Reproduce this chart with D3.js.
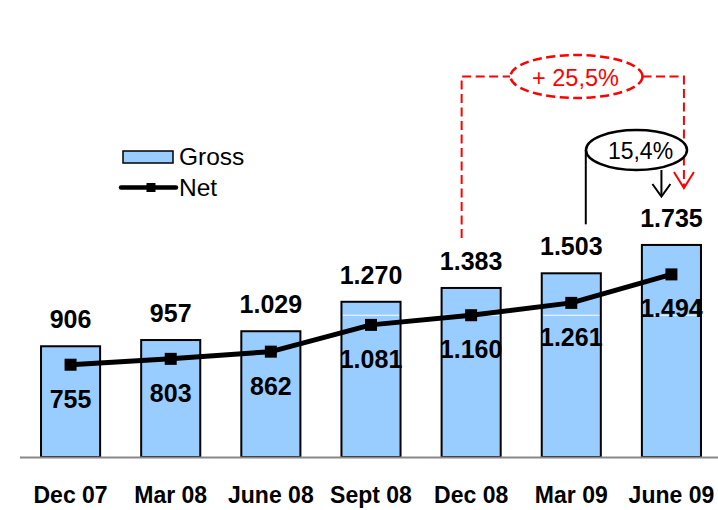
<!DOCTYPE html>
<html>
<head>
<meta charset="utf-8">
<script src="https://cdn.jsdelivr.net/npm/d3@7/dist/d3.min.js"></script>
<style>
  body { margin: 0; background: #fff; }
  svg { display: block; font-family: "Liberation Sans", Arial, sans-serif; }
</style>
</head>
<body>
<svg id="grafico" width="718" height="510"></svg>
<script>
// Datos
var periodos = ["Dec 07", "Mar 08", "June 08", "Sept 08", "Dec 08", "Mar 09", "June 09"];
var gross = [906, 957, 1029, 1270, 1383, 1503, 1735];
var net = [755, 803, 862, 1081, 1160, 1261, 1494];
var etiquetasGross = ["906", "957", "1.029", "1.270", "1.383", "1.503", "1.735"];
var etiquetasNet = ["755", "803", "862", "1.081", "1.160", "1.261", "1.494"];
var lineaBlanca = 1160; // línea blanca dentro de las barras
var anotRoja = "+ 25,5%";
var anotNegra = "15,4%";

var svg = d3.select("#grafico");

// Escalas
var x = d3.scaleBand()
    .domain(periodos)
    .range([20, 722])
    .paddingInner(0.41)
    .paddingOuter(0.21);
var y = d3.scaleLinear()
    .domain([0, 1800])
    .range([457, 237]);
var cx = (p) => x(p) + x.bandwidth() / 2;

// Barras
svg.append("g")
    .selectAll("rect")
    .data(periodos)
    .enter()
    .append("rect")
    .attr("x", d => x(d))
    .attr("y", (d, i) => y(gross[i]))
    .attr("width", x.bandwidth())
    .attr("height", (d, i) => y(0) - y(gross[i]))
    .attr("fill", "#99ccff")
    .attr("stroke", "#000")
    .attr("stroke-width", 2);

// Línea blanca dentro de las barras altas
svg.append("g")
    .selectAll("line")
    .data(periodos.filter((d, i) => gross[i] > lineaBlanca))
    .enter()
    .append("line")
    .attr("x1", d => x(d) + 1.5)
    .attr("x2", d => x(d) + x.bandwidth() - 1.5)
    .attr("y1", y(lineaBlanca))
    .attr("y2", y(lineaBlanca))
    .attr("stroke", "#fff")
    .attr("stroke-width", 1);

// Eje base
svg.append("line")
    .attr("x1", 20).attr("x2", 718)
    .attr("y1", y(0) + 0.5).attr("y2", y(0) + 0.5)
    .attr("stroke", "#888")
    .attr("stroke-width", 2);

// Etiquetas del eje x
svg.append("g")
    .selectAll("text")
    .data(periodos)
    .enter()
    .append("text")
    .attr("x", d => cx(d))
    .attr("y", 503)
    .attr("text-anchor", "middle")
    .style("font-weight", "bold")
    .style("font-size", "23px")
    .text(d => d);

// Línea neta
var linea = d3.line()
    .x((d, i) => cx(periodos[i]))
    .y(d => y(d));
svg.append("path")
    .datum(net)
    .attr("d", linea)
    .attr("fill", "none")
    .attr("stroke", "#000")
    .attr("stroke-width", 5)
    .attr("stroke-linejoin", "round");
svg.append("g")
    .selectAll("rect")
    .data(net)
    .enter()
    .append("rect")
    .attr("x", (d, i) => cx(periodos[i]) - 6)
    .attr("y", d => y(d) - 6)
    .attr("width", 12)
    .attr("height", 12)
    .attr("fill", "#000");

// Valores
svg.append("g")
    .selectAll("text")
    .data(etiquetasGross)
    .enter()
    .append("text")
    .attr("x", (d, i) => cx(periodos[i]))
    .attr("y", (d, i) => y(gross[i]) - 18)
    .attr("text-anchor", "middle")
    .style("font-weight", "bold")
    .style("font-size", "25px")
    .text(d => d);
svg.append("g")
    .selectAll("text")
    .data(etiquetasNet)
    .enter()
    .append("text")
    .attr("x", (d, i) => cx(periodos[i]))
    .attr("y", (d, i) => y(net[i]) + 43)
    .attr("text-anchor", "middle")
    .style("font-weight", "bold")
    .style("font-size", "25px")
    .text(d => d);

// Leyenda
var leyenda = svg.append("g");
leyenda.append("rect")
    .attr("x", 123).attr("y", 151)
    .attr("width", 50).attr("height", 12)
    .attr("fill", "#99ccff")
    .attr("stroke", "#000")
    .attr("stroke-width", 1.5);
leyenda.append("text")
    .attr("x", 179).attr("y", 164.5)
    .style("font-size", "24.5px")
    .text("Gross");
leyenda.append("line")
    .attr("x1", 121).attr("x2", 176)
    .attr("y1", 187.5).attr("y2", 187.5)
    .attr("stroke", "#000")
    .attr("stroke-width", 4.5)
    .attr("stroke-linecap", "round");
leyenda.append("rect")
    .attr("x", 146.5).attr("y", 183)
    .attr("width", 9).attr("height", 9)
    .attr("fill", "#000");
leyenda.append("text")
    .attr("x", 179).attr("y", 196)
    .style("font-size", "24.5px")
    .text("Net");

// Anotación roja (Dec 08 -> June 09)
var rojo = "#ff0000";
var rx0 = cx("Dec 08") - 9.5, rx1 = cx("June 09") + 12.5, ryTop = 76.5;
var rojaG = svg.append("g")
    .attr("fill", "none")
    .attr("stroke", rojo)
    .attr("stroke-width", 2)
    .attr("stroke-dasharray", "9,4.5");
rojaG.append("path")
    .attr("d", "M" + rx0 + "," + (y(gross[4]) - 50) + " V" + ryTop + " H" + 510);
rojaG.append("path")
    .attr("d", "M" + 642.5 + "," + ryTop + " H" + rx1 + " V" + 187);
rojaG.append("ellipse")
    .attr("cx", 576.5).attr("cy", ryTop)
    .attr("rx", 66).attr("ry", 21.5)
    .attr("stroke-width", 2.5);
svg.append("path")
    .attr("d", "M" + (rx1 - 10) + ",172 L" + rx1 + ",188 L" + (rx1 + 10) + ",172")
    .attr("fill", "none")
    .attr("stroke", rojo)
    .attr("stroke-width", 2);
svg.append("text")
    .attr("x", 575.5).attr("y", 86)
    .attr("text-anchor", "middle")
    .attr("fill", rojo)
    .style("font-size", "23.5px")
    .text(anotRoja);

// Anotación negra (Mar 09 -> June 09)
var bx0 = cx("Mar 09") + 14.5, bx1 = cx("June 09") - 10;
var negraG = svg.append("g")
    .attr("fill", "none")
    .attr("stroke", "#000")
    .attr("stroke-width", 2);
negraG.append("path")
    .attr("d", "M" + bx0 + "," + (y(gross[5]) - 49) + " V150");
negraG.append("ellipse")
    .attr("cx", 636.5).attr("cy", 150)
    .attr("rx", 50.5).attr("ry", 20)
    .attr("fill", "#fff")
    .attr("stroke-width", 2.5);
negraG.append("path")
    .attr("d", "M" + bx1 + ",170 V196");
negraG.append("path")
    .attr("d", "M" + (bx1 - 9) + ",184 L" + bx1 + ",196.5 L" + (bx1 + 9) + ",184");
svg.append("text")
    .attr("x", 640.5).attr("y", 158.5)
    .attr("text-anchor", "middle")
    .attr("fill", "#000")
    .style("font-size", "23px")
    .text(anotNegra);
</script>
</body>
</html>
